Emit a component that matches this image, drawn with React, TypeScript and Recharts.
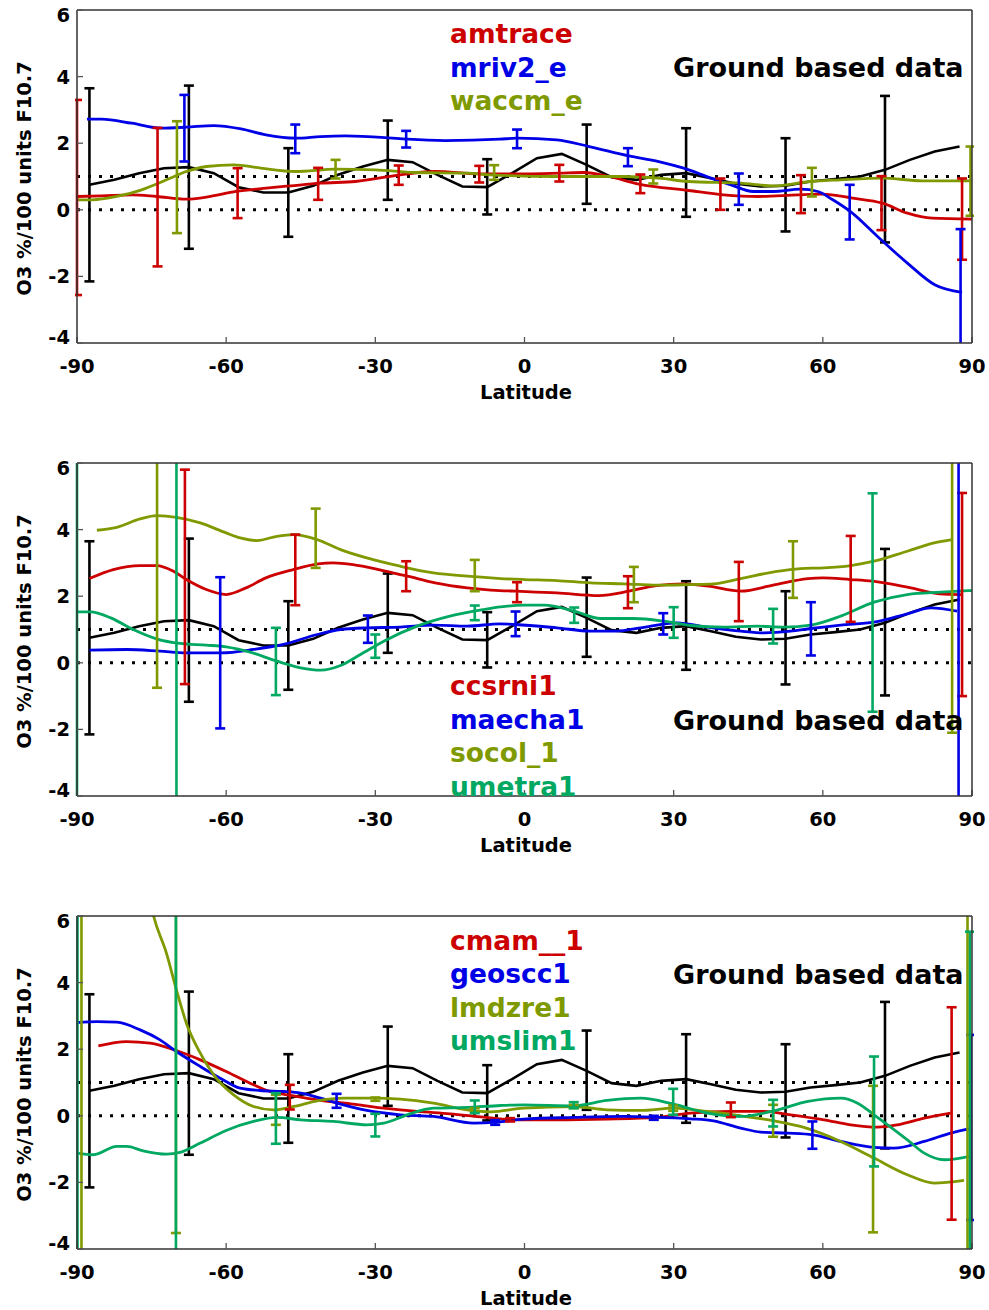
import { ComposedChart, Line, ErrorBar, XAxis, YAxis, ReferenceLine } from "recharts";

document.body.style.margin = "0";

type Pt = [number, number];
type Bar = [number, number, number]; // lat, centre, half-width

const xTicks = [-90, -60, -30, 0, 30, 60, 90];
const yTicks = [-4, -2, 0, 2, 4, 6];

const RED = "#cc0000";
const BLUE = "#0000e6";
const OLIVE = "#7f9a00";
const GREEN = "#00a862";

// ground based data (same in every panel)
const groundLat = [-87.5, -82.5, -77.5, -72.5, -67.5, -62.5, -57.5, -52.5, -47.5, -42.5, -37.5, -32.5, -27.5, -22.5, -17.5, -12.5, -7.5, -2.5, 2.5, 7.5, 12.5, 17.5, 22.5, 27.5, 32.5, 37.5, 42.5, 47.5, 52.5, 57.5, 62.5, 67.5, 72.5, 77.5, 82.5, 87.5];
const groundVal = [0.75, 0.9, 1.1, 1.25, 1.28, 1.1, 0.68, 0.52, 0.52, 0.72, 1.05, 1.3, 1.5, 1.43, 1.05, 0.7, 0.68, 1.1, 1.55, 1.68, 1.35, 0.98, 0.9, 1.05, 1.1, 0.95, 0.78, 0.7, 0.72, 0.85, 0.92, 1.0, 1.2, 1.5, 1.75, 1.9];
const groundBars: Bar[] = [[-87.5, 0.75, 2.9], [-67.5, 1.28, 2.45], [-47.5, 0.52, 1.33], [-27.5, 1.49, 1.19], [-7.5, 0.69, 0.83], [12.5, 1.37, 1.19], [32.5, 1.12, 1.33], [52.5, 0.75, 1.4], [72.5, 1.22, 2.2]];

// panel 1
const amtraceLine: Pt[] = [[-90, 0.4], [-85, 0.42], [-79, 0.45], [-74, 0.4], [-68, 0.32], [-64, 0.38], [-58, 0.55], [-52, 0.65], [-47, 0.72], [-41, 0.8], [-34, 0.85], [-25, 1.05], [-18, 1.15], [-9, 1.08], [0, 1.08], [7, 1.1], [12, 1.12], [17, 1.0], [23, 0.77], [33, 0.58], [40, 0.45], [47, 0.4], [55, 0.45], [60, 0.47], [66, 0.35], [72, 0.2], [77, -0.1], [82, -0.25], [90, -0.28]];
const amtraceBars: Bar[] = [[-90, 0.37, 2.93], [-73.8, 0.38, 2.08], [-57.7, 0.5, 0.75], [-41.5, 0.78, 0.48], [-25.3, 1.04, 0.29], [-9.1, 1.07, 0.25], [7, 1.1, 0.25], [23.3, 0.78, 0.28], [39.4, 0.47, 0.47], [55.6, 0.47, 0.57], [71.8, 0.2, 0.81], [88, -0.28, 1.22]];
const mrivLine: Pt[] = [[-88, 2.72], [-85, 2.72], [-79, 2.6], [-73, 2.45], [-68, 2.48], [-62.5, 2.53], [-57, 2.43], [-52, 2.25], [-46, 2.15], [-41, 2.2], [-36, 2.22], [-28, 2.17], [-23.5, 2.12], [-16, 2.08], [-5, 2.12], [-1.5, 2.15], [6.5, 2.1], [13, 1.9], [21, 1.62], [27, 1.45], [32, 1.25], [37.5, 0.95], [41.5, 0.75], [46, 0.55], [50, 0.55], [55.5, 0.62], [59, 0.55], [62, 0.3], [65.5, -0.05], [71, -0.8], [77, -1.6], [82.5, -2.25], [88, -2.48]];
const mrivBars: Bar[] = [[-68.4, 2.45, 1.0], [-46.1, 2.13, 0.43], [-23.8, 2.12, 0.25], [-1.5, 2.13, 0.28], [20.8, 1.58, 0.27], [43.1, 0.62, 0.47], [65.4, -0.07, 0.82], [87.7, -2.48, 1.9]];
const waccmLine: Pt[] = [[-90, 0.3], [-87, 0.3], [-82, 0.4], [-77, 0.6], [-72, 0.9], [-68, 1.15], [-64, 1.3], [-58.5, 1.35], [-53, 1.25], [-46, 1.15], [-38, 1.22], [-30, 1.2], [-22, 1.12], [-11.5, 1.1], [-7, 1.05], [6.5, 1.0], [20, 1.0], [27, 0.95], [33, 0.85], [43.5, 0.8], [50, 0.72], [57.5, 0.85], [63.5, 0.9], [72, 0.95], [80, 0.87], [90, 0.87]];
const waccmBars: Bar[] = [[-69.9, 0.98, 1.68], [-38, 1.22, 0.28], [-6.1, 1.12, 0.22], [25.9, 1.0, 0.21], [57.8, 0.83, 0.43], [89.7, 0.86, 1.04]];

// panel 2
const ccsrniLine: Pt[] = [[-87.5, 2.53], [-82.7, 2.8], [-77.3, 2.92], [-74, 2.92], [-70.6, 2.75], [-68, 2.5], [-64, 2.2], [-60, 2.05], [-56, 2.25], [-52, 2.55], [-46.5, 2.8], [-41.5, 2.97], [-38.5, 3.0], [-34.5, 2.95], [-28.5, 2.77], [-23.5, 2.6], [-18, 2.4], [-11.5, 2.25], [-5, 2.17], [-1.5, 2.15], [6.5, 2.1], [15, 2.02], [21, 2.15], [26.5, 2.32], [32, 2.37], [37, 2.3], [43.5, 2.15], [50, 2.33], [57, 2.53], [60, 2.55], [65.5, 2.5], [70, 2.45], [77, 2.27], [83.5, 2.07], [88, 2.05]];
const ccsrniBars: Bar[] = [[-68.3, 2.58, 3.22], [-46.1, 2.79, 1.06], [-23.8, 2.6, 0.45], [-1.5, 2.12, 0.3], [20.8, 2.12, 0.48], [43.1, 2.14, 0.89], [65.6, 2.52, 1.29], [88, 2.05, 3.05]];
const maechaLine: Pt[] = [[-87.5, 0.38], [-80, 0.4], [-73.3, 0.35], [-68, 0.3], [-61, 0.3], [-54.5, 0.4], [-48.5, 0.55], [-41.7, 0.85], [-37, 1.0], [-31.7, 1.05], [-25, 1.07], [-18.3, 1.13], [-11.5, 1.1], [-5, 1.17], [-1.8, 1.15], [6.5, 1.05], [13.3, 0.95], [18.6, 0.95], [23.3, 1.05], [30.7, 1.2], [36.8, 1.07], [43.5, 0.95], [48.2, 0.9], [53.5, 0.95], [57.6, 1.03], [63.6, 1.13], [70.3, 1.22], [77, 1.47], [81.7, 1.65], [87, 1.55]];
const maechaBars: Bar[] = [[-61.2, 0.3, 2.27], [-31.5, 1.01, 0.41], [-1.8, 1.17, 0.37], [27.9, 1.17, 0.32], [57.6, 1.02, 0.8], [87.3, 1.55, 7]];
const socolLine: Pt[] = [[-86, 3.98], [-82, 4.07], [-77.3, 4.32], [-74, 4.42], [-70, 4.37], [-65.2, 4.2], [-60, 3.9], [-57.2, 3.75], [-53.8, 3.67], [-49.8, 3.8], [-46.4, 3.85], [-41.7, 3.7], [-37, 3.4], [-31.7, 3.15], [-25, 2.9], [-18.3, 2.7], [-11.5, 2.6], [-4.8, 2.53], [0, 2.5], [6.5, 2.47], [13.3, 2.4], [20, 2.37], [26.7, 2.33], [33.4, 2.35], [38, 2.37], [43.5, 2.53], [50.2, 2.73], [55.5, 2.83], [60.2, 2.85], [65.6, 2.92], [70.3, 3.05], [77, 3.35], [82.4, 3.6], [86, 3.7]];
const socolBars: Bar[] = [[-73.9, 4.42, 5.17], [-42, 3.74, 0.89], [-10, 2.62, 0.47], [22, 2.35, 0.53], [54, 2.8, 0.85], [86, 3.7, 5.8]];
const umetraLine: Pt[] = [[-90, 1.53], [-87.3, 1.53], [-83.2, 1.35], [-78.7, 1.0], [-74, 0.72], [-69.3, 0.58], [-64, 0.53], [-60, 0.48], [-55.2, 0.32], [-49.8, 0.05], [-45, -0.15], [-41, -0.22], [-37, -0.08], [-33, 0.25], [-28.3, 0.65], [-21.6, 1.1], [-15, 1.4], [-8.2, 1.6], [-4.8, 1.68], [-0.2, 1.73], [4, 1.73], [10, 1.55], [15.3, 1.33], [22, 1.33], [28, 1.25], [33.4, 1.12], [40, 1.07], [46.8, 1.1], [52.2, 1.07], [57.6, 1.13], [63.6, 1.4], [70.3, 1.82], [77, 2.05], [83.7, 2.12], [90, 2.17]];
const umetraBars: Bar[] = [[-90, 1.53, 8], [-70, 0.6, 8], [-50, 0.04, 1.01], [-30, 0.5, 0.35], [-10, 1.5, 0.22], [10, 1.43, 0.23], [30, 1.21, 0.46], [50, 1.1, 0.52], [70, 1.81, 3.28]];

// panel 3
const cmamLine: Pt[] = [[-85.7, 2.1], [-80, 2.23], [-75.3, 2.18], [-70, 1.96], [-65.2, 1.68], [-60, 1.33], [-54.5, 0.93], [-51.8, 0.76], [-47, 0.61], [-41, 0.46], [-35, 0.36], [-28.3, 0.23], [-21.6, 0.13], [-15, 0.06], [-8.2, -0.04], [-1.8, -0.12], [6.5, -0.12], [16.6, -0.1], [26.7, -0.05], [33.4, 0.08], [41.4, 0.13], [48.2, 0.13], [53.5, 0.03], [60.2, -0.12], [65.6, -0.27], [71, -0.34], [75, -0.27], [80.4, -0.07], [85.7, 0.08]];
const cmamBars: Bar[] = [[-47.2, 0.56, 0.37], [-2.9, -0.12, 0.05], [41.5, 0.18, 0.22], [85.9, 0.07, 3.19]];
const geosccLine: Pt[] = [[-90, 2.8], [-86, 2.83], [-82, 2.81], [-77.3, 2.58], [-73.3, 2.28], [-70, 1.93], [-65.2, 1.48], [-61.2, 1.13], [-57.2, 0.83], [-53.2, 0.76], [-48.5, 0.73], [-45, 0.68], [-41, 0.53], [-37.7, 0.38], [-31.7, 0.16], [-25, 0.03], [-18.3, -0.02], [-10.2, -0.22], [-6.2, -0.2], [-0.2, -0.1], [10, -0.05], [20, -0.02], [26, -0.04], [33.4, -0.09], [38, -0.15], [43.5, -0.37], [47.5, -0.49], [53, -0.52], [58, -0.57], [63.6, -0.77], [70.3, -0.95], [74.3, -0.97], [80.4, -0.77], [85.7, -0.52], [90, -0.37]];
const geosccBars: Bar[] = [[-37.8, 0.45, 0.21], [-5.9, -0.2, 0.07], [26, -0.06, 0.06], [57.9, -0.58, 0.41], [89.8, -0.35, 2.78]];
const lmdzreLine: Pt[] = [[-88, 15], [-84, 12.5], [-80, 10], [-77, 7.8], [-74.6, 6.0], [-72, 4.88], [-70, 3.78], [-68, 2.78], [-65.2, 1.88], [-62, 1.13], [-58.5, 0.63], [-54.5, 0.28], [-50.5, 0.18], [-46.4, 0.28], [-41.7, 0.45], [-36.4, 0.53], [-30, 0.53], [-25, 0.5], [-18.3, 0.38], [-11.5, 0.18], [-6.8, 0.12], [-0.2, 0.23], [10, 0.28], [16.6, 0.18], [23.3, 0.16], [30, 0.23], [36.8, 0.13], [43.5, 0], [50.2, -0.15], [55.5, -0.32], [63.6, -0.77], [70.3, -1.27], [77, -1.77], [82.4, -2.02], [88.4, -1.94]];
const lmdzreBars: Bar[] = [[-89.1, 14, 20], [-70.1, 3.78, 7.3], [-50, 0.18, 0.45], [-30, 0.5, 0.05], [-10, 0.18, 0.05], [9.9, 0.28, 0.05], [29.9, 0.23, 0.08], [50, -0.15, 0.48], [70.1, -1.3, 2.2], [89.1, -1.94, 9]];
const umslimLine: Pt[] = [[-90, -1.12], [-86.7, -1.17], [-82, -0.92], [-80, -0.92], [-76.7, -1.05], [-72, -1.15], [-69.3, -1.1], [-65.2, -0.82], [-60, -0.44], [-54.5, -0.17], [-49.8, -0.05], [-45, -0.12], [-38.4, -0.17], [-31.7, -0.27], [-28.3, -0.22], [-23.6, 0.03], [-18.3, 0.23], [-11.5, 0.25], [-4.8, 0.31], [-0.2, 0.33], [10, 0.3], [16.6, 0.46], [23.3, 0.53], [30, 0.35], [36.8, 0.08], [43.5, -0.02], [50.2, 0.15], [57, 0.43], [63.6, 0.53], [67, 0.38], [70.3, 0.03], [77, -0.72], [80.4, -1.12], [84.4, -1.32], [90, -1.2]];
const umslimBars: Bar[] = [[-89.9, -1.12, 8], [-70.1, -1.1, 8], [-50, -0.08, 0.76], [-30, -0.28, 0.34], [-10, 0.27, 0.19], [9.9, 0.32, 0.09], [29.9, 0.42, 0.39], [50, 0.08, 0.4], [70.3, 0.13, 1.65], [89.6, -1.2, 6.73]];

type Series = { name: string; color: string; line: Pt[]; bars: Bar[] };

const panels: { height: number; legendY: number; groundY: number; series: Series[] }[] = [
  {
    height: 453, legendY: 43, groundY: 77,
    series: [
      { name: "amtrace", color: RED, line: amtraceLine, bars: amtraceBars },
      { name: "mriv2_e", color: BLUE, line: mrivLine, bars: mrivBars },
      { name: "waccm_e", color: OLIVE, line: waccmLine, bars: waccmBars },
    ],
  },
  {
    height: 453, legendY: 242, groundY: 277,
    series: [
      { name: "ccsrni1", color: RED, line: ccsrniLine, bars: ccsrniBars },
      { name: "maecha1", color: BLUE, line: maechaLine, bars: maechaBars },
      { name: "socol_1", color: OLIVE, line: socolLine, bars: socolBars },
      { name: "umetra1", color: GREEN, line: umetraLine, bars: umetraBars },
    ],
  },
  {
    height: 404, legendY: 43.5, groundY: 78,
    series: [
      { name: "cmam__1", color: RED, line: cmamLine, bars: cmamBars },
      { name: "geoscc1", color: BLUE, line: geosccLine, bars: geosccBars },
      { name: "lmdzre1", color: OLIVE, line: lmdzreLine, bars: lmdzreBars },
      { name: "umslim1", color: GREEN, line: umslimLine, bars: umslimBars },
    ],
  },
];

const FONT = "'DejaVu Sans', sans-serif";
const AXIS = "#333";
const TOP = 10;
const PLOT_H = 333;
const RIGHT = 16;
const LEFT_W = 77;
const tickStyle = { fontFamily: FONT, fontWeight: "bold", fontSize: 19.5, fill: "#000" };
const axisLine = { stroke: AXIS, strokeWidth: 1.5 };
const tickLine = { stroke: "#555", strokeWidth: 1.3 };

// matlab nudges the end labels of the y axis inwards
function YTick(props: any) {
  const { x, y, payload } = props;
  const nudge = payload.value === 6 ? 5 : payload.value === -4 ? -6 : 0;
  return (
    <text x={x} y={y + nudge} dy="0.355em" textAnchor="end" {...tickStyle}>
      {payload.value}
    </text>
  );
}

const groundLine = groundLat.map((lat, i) => ({ lat, v: groundVal[i] }));
const toLine = (pts: Pt[]) => pts.map(([lat, v]) => ({ lat, v }));
const toBars = (bars: Bar[]) => bars.map(([lat, v, e]) => ({ lat, v, e }));

// error bars ride on an invisible line; they are clipped to the plot by css below
function barSeries(key: string, bars: Bar[], color: string, w: number) {
  return (
    <Line key={key} data={toBars(bars)} dataKey="v" stroke="none" dot={false} activeDot={false}
      isAnimationActive={false}>
      <ErrorBar dataKey="e" direction="y" width={5} stroke={color} strokeWidth={w} />
    </Line>
  );
}

function Panel({ height, legendY, groundY, series }: (typeof panels)[number]) {
  const bottom = height - TOP - PLOT_H - 60;
  return (
    <div style={{ position: "relative", width: 989, height }}>
      <ComposedChart width={989} height={height} margin={{ top: TOP - 1, right: RIGHT, bottom, left: 0 }}>
        <XAxis dataKey="lat" type="number" domain={[-90, 90]} ticks={xTicks} allowDataOverflow
          height={60} tickSize={-6} tickMargin={22} tick={tickStyle}
          axisLine={axisLine} tickLine={tickLine} />
        <XAxis xAxisId="top" orientation="top" type="number" domain={[-90, 90]} ticks={xTicks}
          height={1} tickSize={-6} tick={false} axisLine={axisLine} tickLine={tickLine} />
        <YAxis dataKey="v" type="number" domain={[-4, 6]} ticks={yTicks} allowDataOverflow
          width={LEFT_W} tickSize={-6} tickMargin={13} tick={<YTick />}
          axisLine={axisLine} tickLine={tickLine} />
        <YAxis yAxisId="right" orientation="right" type="number" domain={[-4, 6]} ticks={yTicks}
          width={1} tickSize={-6} tick={false} axisLine={axisLine} tickLine={tickLine} />
        <ReferenceLine y={1} stroke="#000" strokeWidth={3} strokeDasharray="3 8" />
        <ReferenceLine y={0} stroke="#000" strokeWidth={3} strokeDasharray="3 8" />
        <Line data={groundLine} dataKey="v" type="linear" stroke="#000" strokeWidth={2.6}
          dot={false} activeDot={false} isAnimationActive={false} />
        {barSeries("ground-b", groundBars, "#000", 2.6)}
        {series.map((s) => (
          <Line key={s.name + "-l"} data={toLine(s.line)} dataKey="v" type="monotone" stroke={s.color}
            strokeWidth={2.8} dot={false} activeDot={false} isAnimationActive={false} />
        ))}
        {series.map((s) => barSeries(s.name + "-b", s.bars, s.color, 2.6))}
      </ComposedChart>
      <svg width={989} height={height} style={{ position: "absolute", left: 0, top: 0, pointerEvents: "none" }}>
        <g fontFamily={FONT} fontWeight="bold">
          {series.map((s, i) => (
            <text key={s.name} x={450} y={legendY + i * 33.5} fontSize={26.5} fill={s.color}>{s.name}</text>
          ))}
          <text x={673} y={groundY} fontSize={27} fill="#000">Ground based data</text>
          <text transform={`translate(31, ${TOP + PLOT_H / 2 + 2}) rotate(-90)`} textAnchor="middle" fontSize={19.5} fill="#000">
            O3 %/100 units F10.7
          </text>
          <text x={526} y={399} textAnchor="middle" fontSize={19.5} fill="#000">Latitude</text>
        </g>
      </svg>
    </div>
  );
}

export default function App() {
  return (
    <div style={{ position: "relative", width: 989, background: "#fff" }}>
      <style>{".recharts-errorBars{clip-path:url(#plot-area-clip)}"}</style>
      <svg width={0} height={0} style={{ position: "absolute" }}>
        <defs>
          <clipPath id="plot-area-clip" clipPathUnits="userSpaceOnUse">
            <rect x={LEFT_W - 2} y={TOP} width={989 - RIGHT - LEFT_W + 3} height={PLOT_H} />
          </clipPath>
        </defs>
      </svg>
      {panels.map((p, i) => (
        <Panel key={i} {...p} />
      ))}
    </div>
  );
}
